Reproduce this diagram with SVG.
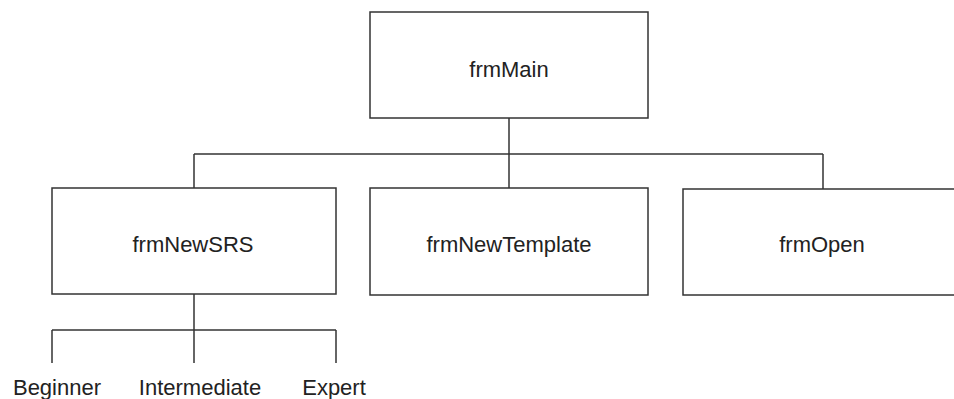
<svg xmlns="http://www.w3.org/2000/svg" width="954" height="399" viewBox="0 0 954 399">
<style>
.box{fill:#fff;stroke:#333;stroke-width:1.5}
.ln{fill:none;stroke:#333;stroke-width:1.5}
.t{font-family:"Liberation Sans",Arial,sans-serif;font-size:22px;fill:#222;text-anchor:middle}
</style>
<rect width="954" height="399" fill="#fff"/>
<g id="connectors">
<line class="ln" x1="509" y1="118" x2="509" y2="188"/>
<line class="ln" x1="194" y1="154" x2="823" y2="154"/>
<line class="ln" x1="194" y1="154" x2="194" y2="188"/>
<line class="ln" x1="823" y1="154" x2="823" y2="189"/>
<line class="ln" x1="194" y1="294" x2="194" y2="363"/>
<line class="ln" x1="52" y1="330" x2="336" y2="330"/>
<line class="ln" x1="52" y1="330" x2="52" y2="363"/>
<line class="ln" x1="336" y1="330" x2="336" y2="363"/>
</g>
<g id="frmMain">
<rect class="box" x="370" y="12" width="278" height="106"/>
<text class="t" x="509" y="77">frmMain</text>
</g>
<g id="frmNewSRS">
<rect class="box" x="52" y="188" width="284" height="106"/>
<text class="t" x="193" y="252">frmNewSRS</text>
</g>
<g id="frmNewTemplate">
<rect class="box" x="370" y="188" width="278" height="107"/>
<text class="t" x="509" y="252">frmNewTemplate</text>
</g>
<g id="frmOpen">
<rect class="box" x="683" y="189" width="290" height="106"/>
<text class="t" x="822" y="252">frmOpen</text>
</g>
<g id="labels">
<text class="t" x="57" y="395">Beginner</text>
<text class="t" x="200" y="395">Intermediate</text>
<text class="t" x="334" y="395">Expert</text>
</g>
</svg>
